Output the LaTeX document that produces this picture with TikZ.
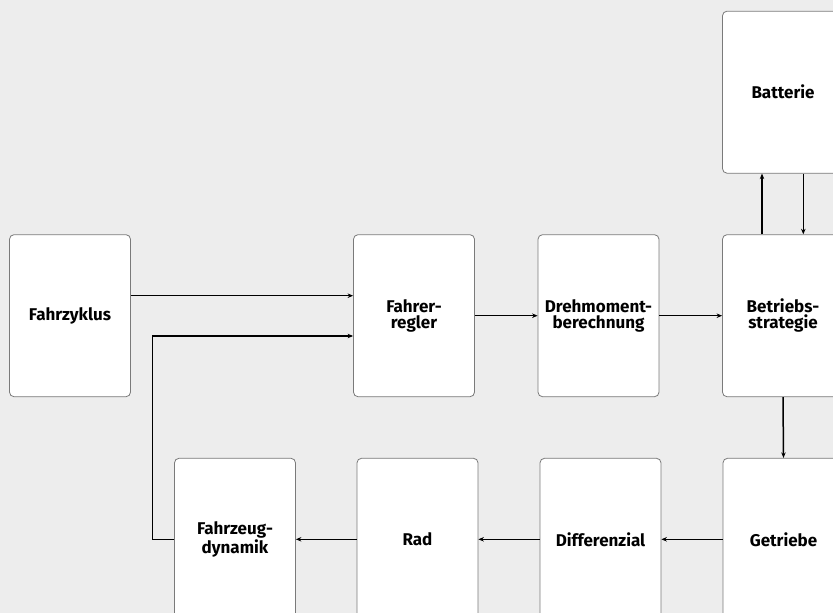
\documentclass[tikz,border=0pt]{standalone}
\usepackage{fontspec}
\setmainfont{Fira Sans}
\usetikzlibrary{arrows.meta}
\definecolor{bgc}{HTML}{EDEDED}
\definecolor{boxline}{HTML}{7A7A7A}
\begin{document}
\begin{tikzpicture}[x=1pt,y=-1pt,
  blk/.style={draw=boxline,line width=0.8pt,fill=white,rounded corners=4.5pt,
    minimum width=121pt,minimum height=162pt,inner sep=0pt,align=center,
    font=\fontsize{17}{16}\selectfont\bfseries},
  arr/.style={line width=1.5pt,-{Stealth[length=5.5pt,width=4.5pt]}}]
\useasboundingbox (0,0) rectangle (833,613);
\clip (0,0) rectangle (833,613);
\fill[bgc] (0,0) rectangle (833,613);
\node[blk] (fz) at (70,315.7) {Fahrzyklus};
\node[blk] (fr) at (414,315.7) {Fahrer-\\regler};
\node[blk] (dm) at (598.5,315.7) {Drehmoment-\\berechnung};
\node[blk] (bs) at (783,315.7) {Betriebs-\\strategie};
\node[blk] (bat) at (783,92.2) {Batterie};
\node[blk] (fd) at (235,539.3) {Fahrzeug-\\dynamik};
\node[blk] (rad) at (417.5,539.3) {Rad};
\node[blk] (dif) at (600.5,539.3) {Differenzial};
\node[blk] (get) at (783.5,539.3) {Getriebe};
\coordinate (fb) at (152.5,539.3);
\draw[arr] ([yshift=20pt]fz.east) -- ([yshift=20pt]fr.west);
\draw[arr] (fd.west) -- (fb) |- ([yshift=-20.3pt]fr.west);
\draw[arr] (fr.east) -- (dm.west);
\draw[arr] (dm.east) -- (bs.west);
\draw[arr] ([xshift=-21pt]bs.north) -- ([xshift=-21pt]bat.south);
\draw[arr] ([xshift=20.3pt]bat.south) -- ([xshift=20.3pt]bs.north);
\draw[arr] (bs.south) -- (get.north);
\draw[arr] (get.west) -- (dif.east);
\draw[arr] (dif.west) -- (rad.east);
\draw[arr] (rad.west) -- (fd.east);
\end{tikzpicture}
\end{document}
